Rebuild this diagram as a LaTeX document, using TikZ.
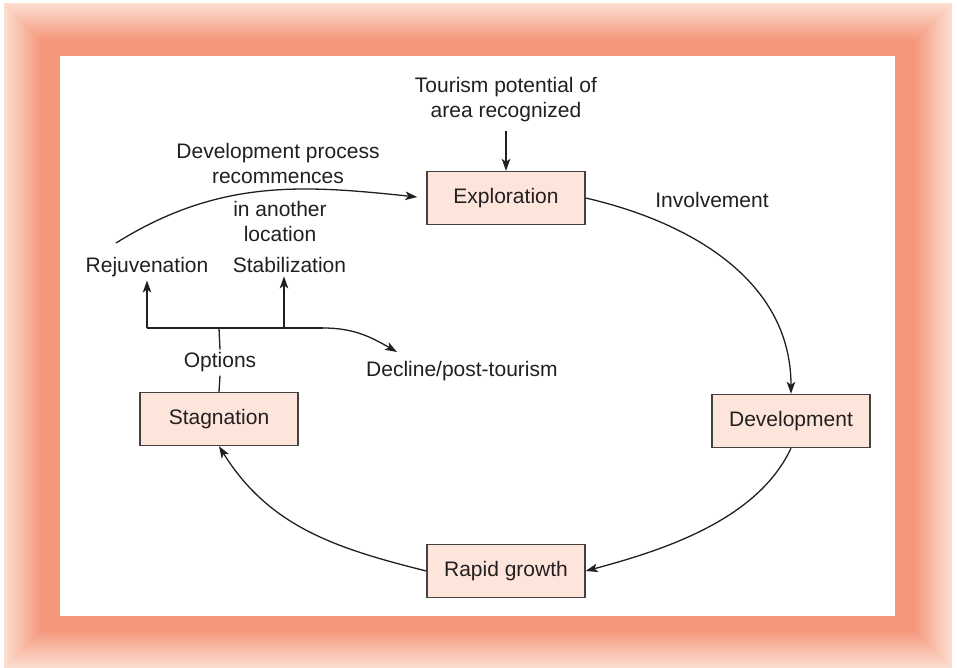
\documentclass[tikz,border=0pt]{standalone}
\usepackage{fontspec}
\setmainfont{Liberation Sans}
\usetikzlibrary{arrows.meta}
\definecolor{salmon}{RGB}{244,150,122}
\definecolor{paleS}{RGB}{252,222,208}
\definecolor{boxfill}{RGB}{253,229,219}
\definecolor{ink}{RGB}{35,31,32}
\begin{document}
\begin{tikzpicture}[x=1pt,y=1pt,
  lbl/.style={text=ink,font=\fontsize{21}{25}\selectfont,inner sep=2pt,align=center},
  stagebox/.style={lbl,draw=ink!85,line width=1.4pt,fill=boxfill,minimum width=158pt,minimum height=53pt,inner sep=0pt},
  conn/.style={draw=ink,line width=1.3pt},
  arr/.style={conn,-{Stealth[length=12pt,width=8.5pt,inset=3pt]}}]
\useasboundingbox (0,0) rectangle (957,668);
% frame
\foreach \i in {0,...,44}{
  \pgfmathsetmacro\p{min(100,\i*100/38)}
  \fill[salmon!\p!paleS] (4+\i,\i) rectangle (952-\i,665-\i);
}
\fill[white] (60,52) rectangle (895,612);
% stages
\node[stagebox] (expl) at (506,470) {Exploration};
\node[stagebox] (dev) at (791,247) {Development};
\node[stagebox] (rapid) at (506,97) {Rapid growth};
\node[stagebox] (stag) at (219,249) {Stagnation};
% labels
\node[lbl] (tour) at (506,568) {Tourism potential of\\area recognized};
\node[lbl] (invol) at (712,468) {Involvement};
\node[lbl] (recom) at (278,504) {Development process\\recommences};
\node[lbl] (another) at (280,446) {in another\\location};
\node[lbl,anchor=base,inner sep=3pt] (rejuv) at (147,395) {Rejuvenation};
\node[lbl,anchor=base,inner sep=3pt] (stab) at (289.5,395) {Stabilization};
\node[lbl,anchor=base,inner sep=3pt] (opt) at (220,300) {Options};
\node[lbl,anchor=base west,inner sep=0pt] (decl) at (366,291) {Decline/post-tourism};
% coordinates
\coordinate (tourtip) at (506,537);
\coordinate (J) at (219,340);
\coordinate (Jl) at (147,340);
\coordinate (Js) at (284,340);
\coordinate (Jr) at (323,340);
\coordinate (dtip) at (397,316);
\coordinate (rstart) at (116,425);
% connectors
\draw[arr] (tourtip) -- (expl.north);
\draw[arr] (expl.east) to[out=-13,in=90] (dev.north);
\draw[arr] (dev.south) to[out=-115,in=15,looseness=0.85] (rapid.east);
\draw[arr] (rapid.west) to[out=166,in=-58] (stag.south);
\draw[conn] (stag.north) -- (opt.south);
\draw[conn] (opt.north) -- (J);
\draw[conn] (Jl) -- (Jr);
\draw[arr] (Jl) -- (Jl |- rejuv.south);
\draw[arr] (Js) -- (Js |- stab.south);
\draw[arr] (Jr) to[out=0,in=150] (dtip);
\draw[arr,shorten >=9pt] (rstart) to[out=32,in=174] (expl.west);
\end{tikzpicture}
\end{document}
